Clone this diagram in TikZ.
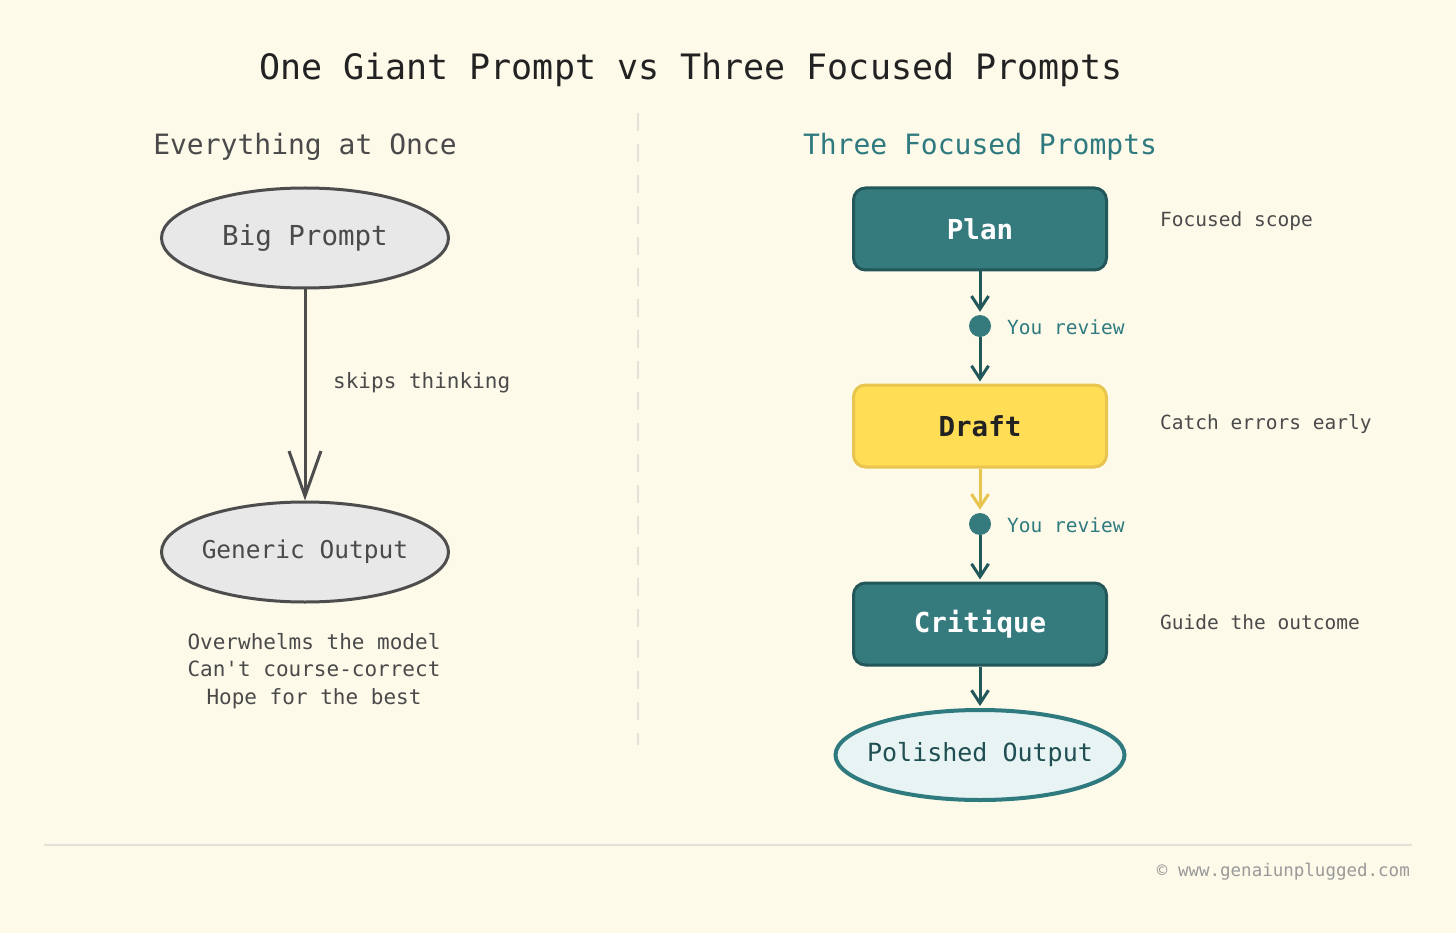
\documentclass[tikz,border=0pt]{standalone}
\usepackage{fontspec}
\setmainfont{DejaVu Sans Mono}
\usepackage{xcolor}
\usetikzlibrary{arrows.meta,positioning,shapes.geometric}

\definecolor{bgcream}{HTML}{FDFAEA}
\definecolor{inkdark}{HTML}{222222}
\definecolor{inkgray}{HTML}{4A4A4A}
\definecolor{ellfill}{HTML}{E8E8E8}
\definecolor{ellline}{HTML}{4D4D4D}
\definecolor{tealfill}{HTML}{357B7E}
\definecolor{tealline}{HTML}{23585B}
\definecolor{tealtext}{HTML}{2E7A7F}
\definecolor{yelfill}{HTML}{FFDD55}
\definecolor{yelline}{HTML}{E8C54E}
\definecolor{polfill}{HTML}{E8F3F3}
\definecolor{poltext}{HTML}{1F4F52}
\definecolor{sepgray}{HTML}{E3E1D8}
\definecolor{footgray}{HTML}{999999}

\begin{document}
\begin{tikzpicture}[
  x=1pt, y=-1pt,
  oval/.style={ellipse, inner xsep=-20pt, inner ysep=0pt, minimum width=287pt,
               minimum height=100pt, draw=ellline, line width=3pt, fill=ellfill,
               text=inkgray, font=\fontsize{27.5}{31}\selectfont},
  stagebox/.style={rectangle, rounded corners=12pt, minimum width=253pt,
                   minimum height=82pt, line width=3pt,
                   font=\bfseries\fontsize{27.5}{31}\selectfont},
  tealbox/.style={stagebox, fill=tealfill, draw=tealline, text=white},
  yelbox/.style={stagebox, fill=yelfill, draw=yelline, text=inkdark},
  checkdot/.style={circle, fill=tealfill, minimum size=22pt, inner sep=0pt},
  note/.style={anchor=west, inner sep=0pt, text=inkgray,
               font=\fontsize{19.5}{23}\selectfont},
  review/.style={note, text=tealtext},
  step arrow/.style={-{Straight Barb[length=13pt,width=17pt]}, line width=3pt,
                     draw=tealline},
]

% Canvas
\fill[bgcream] (0,0) rectangle (1456,933);
\useasboundingbox (0,0) rectangle (1456,933);

% Title and headings
\node[text=inkdark, font=\fontsize{35}{40}\selectfont] (title) at (691,70)
  {One Giant Prompt vs Three Focused Prompts};
\node[text=inkgray, font=\fontsize{28}{32}\selectfont] (lefthead) at (305,147)
  {Everything at Once};
\node[text=tealtext, font=\fontsize{28}{32}\selectfont] (righthead) at (980,147)
  {Three Focused Prompts};

% Divider
\draw[sepgray, line width=2pt, dash pattern=on 18pt off 13pt] (638,113) -- (638,745);

% Left side: one prompt
\node[oval] (big) at (305,238) {Big Prompt};
\node[oval, font=\fontsize{24.5}{28}\selectfont] (generic) at (305,552) {Generic Output};
\draw[-{Straight Barb[length=45pt,width=32pt]}, line width=3pt, ellline]
  (big) -- (generic.north);
\node[note, font=\fontsize{21}{25}\selectfont] (skips) at (333,383) {skips thinking};
\node[text=inkgray, align=center, font=\fontsize{21}{27.5}\selectfont] (cons) at (314,671)
  {Overwhelms the model\\Can\textquotesingle t course-correct\\Hope for the best};

% Right side: three focused prompts
\node[tealbox] (plan) at (980,229) {Plan};
\node[checkdot] (rev1) at (980,326) {};
\node[yelbox] (draft) at (980,426) {Draft};
\node[checkdot] (rev2) at (980,524) {};
\node[tealbox] (critique) at (980,624) {Critique};
\node[oval, minimum width=289pt, minimum height=90pt, draw=tealtext, line width=4pt,
      fill=polfill, text=poltext, font=\fontsize{25}{29}\selectfont] (polished)
  at (980,755) {Polished Output};

\draw[step arrow, shorten >=3pt] (plan) -- (rev1);
\draw[step arrow, shorten >=2pt] (rev1) -- (draft);
\draw[step arrow, draw=yelline, shorten >=3pt] (draft) -- (rev2);
\draw[step arrow, shorten >=2pt] (rev2) -- (critique);
\draw[step arrow, shorten >=2pt] (critique) -- (polished);

\node[review] (revlabel1) at (1007,327) {You review};
\node[review] (revlabel2) at (1007,525) {You review};
\node[note] (scope) at (1160,221) {Focused scope};
\node[note] (errors) at (1160,424) {Catch errors early};
\node[note] (guide) at (1160,622) {Guide the outcome};

% Footer
\draw[sepgray, line width=1.5pt] (44,845) -- (1412,845);
\node[anchor=east, inner sep=0pt, text=footgray, font=\fontsize{17.5}{21}\selectfont]
  (footer) at (1410,872) {© www.genaiunplugged.com};

\end{tikzpicture}
\end{document}
